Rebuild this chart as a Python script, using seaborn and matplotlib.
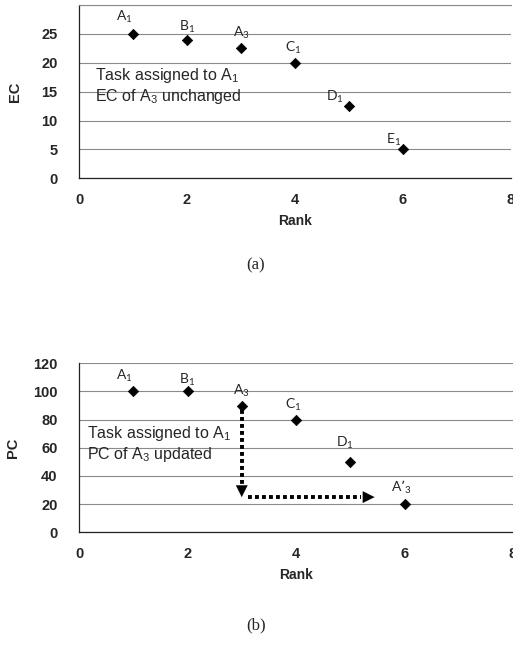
import numpy as np
import pandas as pd
import matplotlib
matplotlib.use("Agg")
import matplotlib.pyplot as plt
import seaborn as sns

# data
rank = [1, 2, 3, 4, 5, 6]
ec_vals = [25, 24, 22.5, 20, 12.5, 5]
ec_names = ["A_1", "B_1", "A_3", "C_1", "D_1", "E_1"]
pc_vals = [100, 100, 90, 80, 50, 20]
pc_names = ["A_1", "B_1", "A_3", "C_1", "D_1", "A’_3"]

# label offsets in pixels (dx, dy)
ec_offs = [(-9, 17), (0, 13), (0, 15), (-2, 15), (-14, 9), (-9, 9)]
pc_offs = [(-9, 16), (0, 12), (0, 15), (-3, 15), (-5, 19), (-3, 17)]

sns.set_theme(style="white")
plt.rcParams["font.family"] = ["Liberation Sans", "DejaVu Sans"]

fig = plt.figure(figsize=(5.13, 6.47), dpi=100)
ax1 = fig.add_axes([79 / 513, 1 - 178.3 / 647, 432 / 513, 173.3 / 647])
ax2 = fig.add_axes([79 / 513, 1 - 532.3 / 647, 434 / 513, 169 / 647])

df_ec = pd.DataFrame({"Rank": rank, "EC": ec_vals})
df_pc = pd.DataFrame({"Rank": rank, "PC": pc_vals})


def style_axes(ax, ylab, yticks, ylabels, ymax, ylab_x):
    ax.set_xlim(0, 8)
    ax.set_ylim(0, ymax)
    ax.set_xticks([0, 2, 4, 6, 8])
    ax.set_xticklabels(["0", "2", "4", "6", "8"], fontsize=10.5, fontweight="bold")
    ax.set_yticks(yticks)
    ax.set_yticklabels(ylabels, fontsize=10.5, fontweight="bold")
    ax.tick_params(axis="y", direction="out", length=4.5, width=0.8, color="#333333", pad=11)
    ax.tick_params(axis="x", direction="out", length=4.5, width=0.8, color="#333333", pad=6)
    ax.grid(True, axis="y", color="#8a8a8a", linewidth=0.8)
    ax.grid(False, axis="x")
    ax.spines["right"].set_visible(False)
    ax.spines["top"].set_color("#8a8a8a")
    ax.spines["top"].set_linewidth(0.8)
    ax.spines["left"].set_color("#222222")
    ax.spines["bottom"].set_color("#222222")
    ax.spines["left"].set_linewidth(0.9)
    ax.spines["bottom"].set_linewidth(0.9)
    ax.set_ylabel(ylab, fontsize=10.5, fontweight="bold")
    ax.yaxis.set_label_coords(ylab_x, 0.5)
    ax.set_xlabel("Rank", fontsize=10, fontweight="bold", labelpad=5)
    ax.set_facecolor("white")


# (a) EC
sns.scatterplot(data=df_ec, x="Rank", y="EC", marker="D", s=28, color="black",
                edgecolor="black", linewidth=0.5, ax=ax1, zorder=5, clip_on=False)
style_axes(ax1, "EC", [0, 5, 10, 15, 20, 25, 30],
           ["0", "5", "10", "15", "20", "25", ""], 30, -(79 - 22) / 432)
for x, y, n, (dx, dy) in zip(rank, ec_vals, ec_names, ec_offs):
    ax1.annotate(r"$\mathregular{" + n + "}$", (x, y), xytext=(dx, dy),
                 textcoords="offset pixels", ha="center", va="center",
                 fontsize=10, family="Lato")
ax1.text(0.3, 16, r"Task assigned to $\mathregular{A_1}$" + "\n" +
         r"EC of $\mathregular{A_3}$ unchanged",
         fontsize=11.5, ha="left", va="center", linespacing=1.15)

# (b) PC
sns.scatterplot(data=df_pc, x="Rank", y="PC", marker="D", s=28, color="black",
                edgecolor="black", linewidth=0.5, ax=ax2, zorder=5, clip_on=False)
style_axes(ax2, "PC", [0, 20, 40, 60, 80, 100, 120],
           ["0", "20", "40", "60", "80", "100", "120"], 120, -(79 - 20) / 434)
ax2.spines["top"].set_visible(False)
for x, y, n, (dx, dy) in zip(rank, pc_vals, pc_names, pc_offs):
    ax2.annotate(r"$\mathregular{" + n + "}$", (x, y), xytext=(dx, dy),
                 textcoords="offset pixels", ha="center", va="center",
                 fontsize=10, family="Lato")
ax2.text(0.15, 63, r"Task assigned to $\mathregular{A_1}$" + "\n" +
         r"PC of $\mathregular{A_3}$ updated",
         fontsize=11.5, ha="left", va="center", linespacing=1.15)

# dotted arrows: A3 drops from its old PC to the new level
a3_rank = rank[2]
a3_old = pc_vals[2]
new_level = 25
target_rank = 5.5
ax2.plot([a3_rank, a3_rank], [a3_old - 3, new_level + 7], color="black",
         linewidth=2.8, linestyle=(0, (1, 0.8)), zorder=4)
ax2.annotate("", xy=(a3_rank, new_level - 2), xytext=(a3_rank, new_level + 8),
             arrowprops=dict(arrowstyle="-|>,head_length=0.7,head_width=0.35",
                             color="black", lw=0.1))
ax2.plot([a3_rank + 0.12, target_rank - 0.3], [new_level, new_level], color="black",
         linewidth=2.8, linestyle=(0, (1, 0.8)), zorder=4)
ax2.annotate("", xy=(target_rank, new_level), xytext=(target_rank - 0.32, new_level),
             arrowprops=dict(arrowstyle="-|>,head_length=0.7,head_width=0.35",
                             color="black", lw=0.1))

fig.text(256 / 513, 1 - 265 / 647, "(a)", ha="center", va="center",
         fontsize=12, family="Liberation Serif")
fig.text(256 / 513, 1 - 625 / 647, "(b)", ha="center", va="center",
         fontsize=12, family="Liberation Serif")

fig.savefig("out.png", dpi=100)
